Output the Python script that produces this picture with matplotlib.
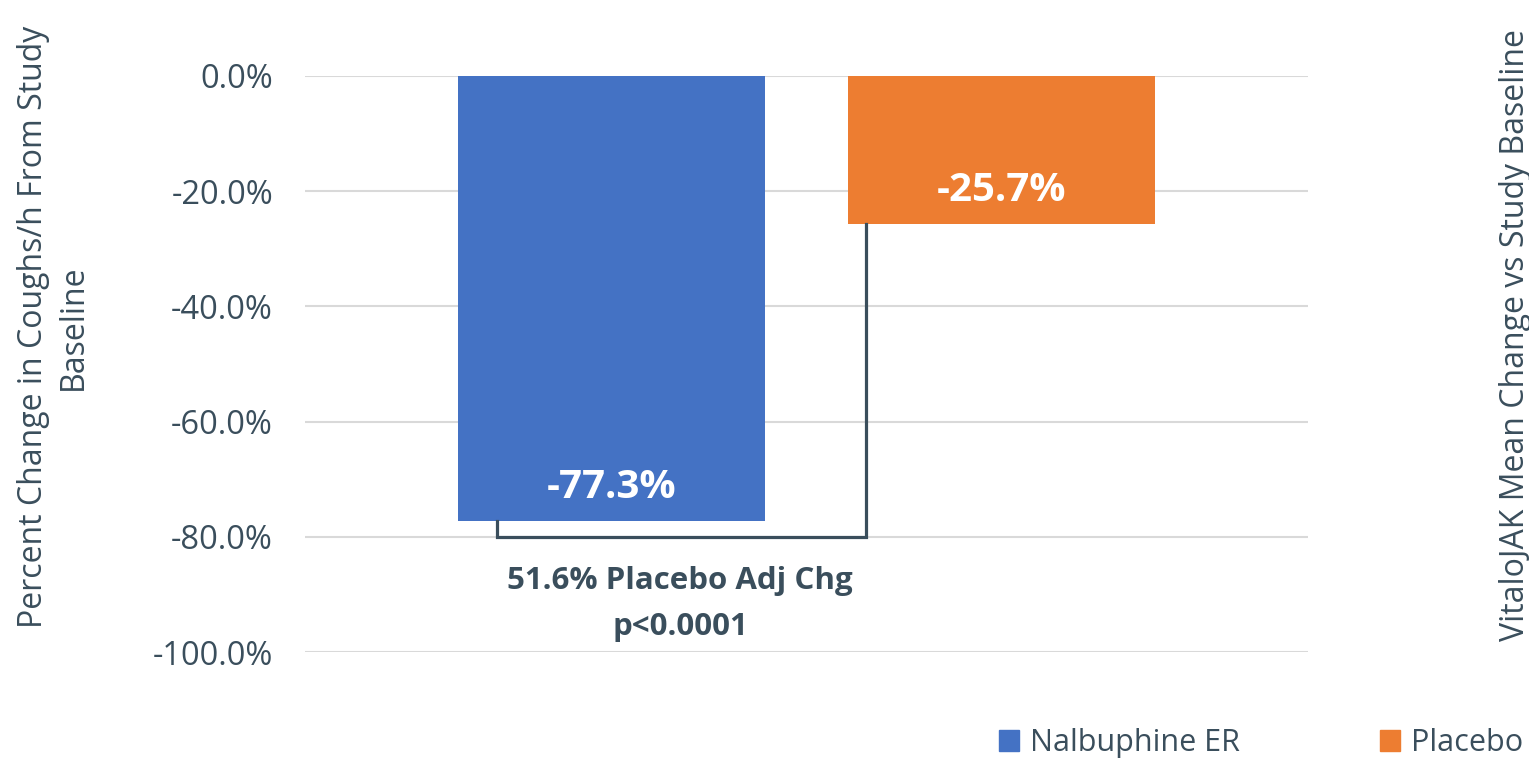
import matplotlib.pyplot as plt
from matplotlib.patches import Patch

# Percent change in coughs/h from study baseline
groups = ['Nalbuphine ER', 'Placebo']
changes = [-77.3, -25.7]
bar_colors = ['#4472C4', '#ED7D31']
yticks = [0, -20, -40, -60, -80, -100]
ytick_labels = ['0.0%', '-20.0%', '-40.0%', '-60.0%', '-80.0%', '-100.0%']
bracket_level = -80.0
adj_lines = ['51.6% Placebo Adj Chg', 'p<0.0001']

TEXT = '#3A4E5C'
plt.rcParams['font.family'] = ['Open Sans', 'DejaVu Sans']

fig = plt.figure(figsize=(15.29, 7.6), dpi=100)
ax = fig.add_axes([0.1995, 0.1421, 0.656, 0.7579])

width = 0.306
centers = [0.5 - 0.194, 0.5 + 0.194]
bars = ax.bar(centers, changes, width=width, color=bar_colors, zorder=2)

# value labels just inside the bar ends
for b, v in zip(bars, changes):
    ax.annotate(f'{v:.1f}%', (b.get_x() + b.get_width() / 2, v),
                xytext=(0, 24), textcoords='offset points',
                ha='center', va='center', color='white',
                fontsize=29, fontweight='bold', zorder=3)

# bracket between the two bars
x_left = bars[0].get_x() + 0.038
x_right = bars[1].get_x() + 0.018
ax.plot([x_left, x_left, x_right, x_right],
        [changes[0], bracket_level, bracket_level, changes[1]],
        color=TEXT, lw=2.3, solid_joinstyle='miter', zorder=3)

# placebo-adjusted note, one line at a time
for i, line in enumerate(adj_lines):
    ax.text(0.374, -87.7 - 8.0 * i, line, ha='center', va='center',
            color=TEXT, fontsize=22.5, fontweight='bold')

ax.set_xlim(0, 1)
ax.set_ylim(-100, 0)
ax.set_yticks(yticks)
ax.set_yticklabels(ytick_labels)
ax.set_xticks([])
ax.tick_params(axis='y', length=0, pad=23, labelsize=23.5, labelcolor=TEXT)
ax.grid(axis='y', color='#D9D9D9', lw=1.5, zorder=0)
for s in ax.spines.values():
    s.set_visible(False)

fig.text(0.035, 0.57, 'Percent Change in Coughs/h From Study\nBaseline',
         rotation=90, ha='center', va='center', color=TEXT, fontsize=23,
         multialignment='center', linespacing=1.28)
fig.text(0.991, 0.559, 'VitaloJAK Mean Change vs Study Baseline',
         rotation=90, ha='center', va='center', color=TEXT, fontsize=23)

handles = [Patch(color=c, label=g) for g, c in zip(groups, bar_colors)]
fig.legend(handles=handles, loc='lower right', bbox_to_anchor=(1.004, -0.014),
           ncol=2, frameon=False, fontsize=22, labelcolor=TEXT,
           handlelength=0.65, handleheight=0.65, handletextpad=0.35,
           columnspacing=4.6, borderaxespad=0.0)

fig.savefig('out.png', dpi=100)
